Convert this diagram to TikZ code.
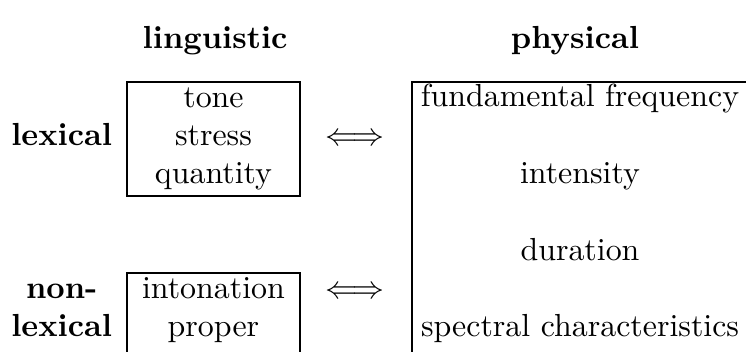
\documentclass[tikz,border=0pt]{standalone}
\begin{document}
\begin{tikzpicture}
\tikzset{cell/.style={anchor=base, inner sep=0pt}, head/.style={cell, font=\bfseries}}

%fix size of picture
\useasboundingbox (0,0) rectangle (8.219,3.867);
\clip (0,0) rectangle (8.219,3.867);

%draw boxes
\draw (1.399,2.964) rectangle (3.305,1.708);
\draw (1.399,0.859) rectangle (3.305,-0.3);
\draw (4.539,2.964) rectangle (8.263,-0.3);

%column heads
\node[head] (ling) at (2.37,3.33) {linguistic};
\node[head] (phys) at (6.335,3.33) {physical};

%row heads
\node[head] (lex) at (0.68,2.267) {lexical};
\node[head] (non) at (0.68,0.579) {non-};
\node[head] (nonlex) at (0.68,0.157) {lexical};

%linguistic entries
\foreach \t [count=\i] in {tone,stress,quantity}
\node[cell] (lin\i) at (2.352,3.11-\i*0.4218) {\t};
\node[cell] (into) at (2.352,0.579) {intonation};
\node[cell] (prop) at (2.352,0.157) {proper};

%physical entries
\foreach \t [count=\i] in {fundamental frequency,intensity,duration,spectral characteristics}
\node[cell] (phy\i) at (6.39,3.532-\i*0.8436) {\t};

%arrows between columns
\node[cell] (eqlex) at (3.911,2.267) {$\Longleftrightarrow$};
\node[cell] (eqnon) at (3.911,0.579) {$\Longleftrightarrow$};
\end{tikzpicture}
\end{document}
